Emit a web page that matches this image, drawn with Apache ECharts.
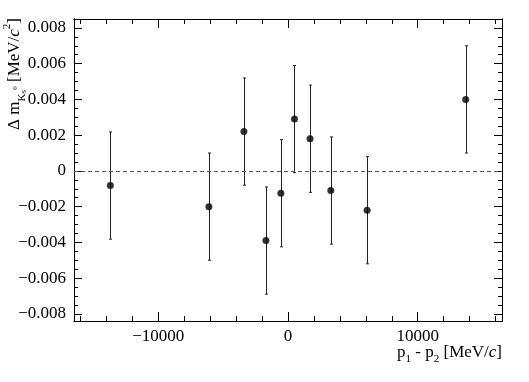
<!DOCTYPE html>
<html>
<head>
<meta charset="utf-8">
<script src="https://cdn.jsdelivr.net/npm/echarts@6/dist/echarts.min.js"></script>
<style>html,body{margin:0;padding:0;background:#fff}#c{width:529px;height:382px}</style>
</head>
<body>
<div id="c"></div>
<script>
// ---- data ----
const xVals = [-13700, -6100, -3400, -1700, -550, 500, 1700, 3300, 6100, 13700];
const yVals = [-0.00082, -0.0020, 0.0022, -0.0039, -0.00125, 0.0029, 0.0018, -0.0011, -0.0022, 0.0040];
const yErr  = [0.0030, 0.0030, 0.0030, 0.0030, 0.0030, 0.0030, 0.0030, 0.0030, 0.0030, 0.0030];
const xMajorTicks = [-10000, 0, 10000];
const xMinorTicks = [-16000,-14000,-12000,-10000,-8000,-6000,-4000,-2000,0,2000,4000,6000,8000,10000,12000,14000,16000];
const yMajorTicks = [-0.008, -0.006, -0.004, -0.002, 0, 0.002, 0.004, 0.006, 0.008];
const yMinorTicks = [];
for (let i = -16; i <= 16; i++) yMinorTicks.push(i * 0.0005);

const X_MIN = -16500, X_MAX = 16500, Y_MIN = -0.0084, Y_MAX = 0.0085;
const FONT = 'Liberation Serif';

const fmtX = v => (v < 0 ? '\u2212' : '') + Math.abs(v);
const fmtY = v => Math.abs(v) < 1e-12 ? '0' : (v < 0 ? '\u2212' : '') + Math.abs(v).toFixed(3);

function xAx(pos, ticks, len, labels) {
  return {
    type: 'value', position: pos, min: X_MIN, max: X_MAX,
    axisLine: { show: true, onZero: false, lineStyle: { color: '#000', width: 1 } },
    axisTick: { show: true, inside: true, length: len, customValues: ticks, lineStyle: { color: '#000', width: 1 } },
    axisLabel: labels ? { show: true, customValues: ticks, formatter: fmtX, fontFamily: FONT, fontSize: 17, color: '#000', margin: 7 } : { show: false },
    splitLine: { show: false }
  };
}
function yAx(pos, ticks, len, labels) {
  return {
    type: 'value', position: pos, min: Y_MIN, max: Y_MAX,
    axisLine: { show: true, onZero: false, lineStyle: { color: '#000', width: 1 } },
    axisTick: { show: true, inside: true, length: len, customValues: ticks, lineStyle: { color: '#000', width: 1 } },
    axisLabel: labels ? { show: true, customValues: ticks, formatter: fmtY, fontFamily: FONT, fontSize: 17, color: '#000', margin: 8 } : { show: false },
    splitLine: { show: false }
  };
}

const chart = echarts.init(document.getElementById('c'), null, { renderer: 'canvas' });
const pts = xVals.map((x, i) => [x, yVals[i], yErr[i]]);

chart.setOption({
  animation: false,
  backgroundColor: '#fff',
  grid: { left: 74, right: 27, top: 19, bottom: 61, containLabel: false },
  xAxis: [
    xAx('bottom', xMajorTicks, 9, true),
    xAx('bottom', xMinorTicks, 5, false),
    xAx('top', xMajorTicks, 9, false),
    xAx('top', xMinorTicks, 5, false)
  ],
  yAxis: [
    yAx('left', yMajorTicks, 8, true),
    yAx('left', yMinorTicks, 4, false),
    yAx('right', yMajorTicks, 8, false),
    yAx('right', yMinorTicks, 4, false)
  ],
  series: [
    {
      type: 'custom', xAxisIndex: 0, yAxisIndex: 0, data: pts, z: 3,
      renderItem: function (params, api) {
        const x = api.value(0), y = api.value(1), e = api.value(2);
        const top = api.coord([x, y + e]);
        const bot = api.coord([x, y - e]);
        const st = { stroke: '#222', lineWidth: 1 };
        const cx = Math.round(top[0]) + 0.5;
        return {
          type: 'group',
          children: [
            { type: 'line', shape: { x1: cx, y1: top[1], x2: cx, y2: bot[1] }, style: st },
            { type: 'line', shape: { x1: cx - 1.5, y1: top[1], x2: cx + 1.5, y2: top[1] }, style: st },
            { type: 'line', shape: { x1: cx - 1.5, y1: bot[1], x2: cx + 1.5, y2: bot[1] }, style: st }
          ]
        };
      }
    },
    {
      type: 'scatter', xAxisIndex: 0, yAxisIndex: 0, z: 4,
      data: pts.map(p => [p[0], p[1]]),
      symbol: 'circle', symbolSize: 7,
      itemStyle: { color: '#000' },
      markLine: {
        silent: true, symbol: 'none', animation: false,
        label: { show: false },
        lineStyle: { color: '#555', type: [4, 3], width: 1 },
        data: [{ yAxis: 0 }]
      }
    }
  ],
  graphic: [
    {
      type: 'text', x: 15, y: 18, rotation: Math.PI / 2,
      style: {
        text: '{a|\u0394 m}{sub|K}{ss|S}{sp|0}{a| [MeV/}{i|c}{sp2|2}{a|]}',
        align: 'right', verticalAlign: 'middle',
        fill: '#000', fontFamily: FONT, fontSize: 17,
        rich: {
          a: { fontFamily: FONT, fontSize: 17, lineHeight: 26, verticalAlign: 'middle' },
          i: { fontFamily: FONT, fontSize: 17, fontStyle: 'italic', lineHeight: 26, verticalAlign: 'middle' },
          sub: { fontFamily: FONT, fontSize: 11, lineHeight: 14, verticalAlign: 'bottom' },
          ss: { fontFamily: FONT, fontSize: 7, lineHeight: 9, verticalAlign: 'bottom' },
          sp: { fontFamily: FONT, fontSize: 7, lineHeight: 9, verticalAlign: 'middle' },
          sp2: { fontFamily: FONT, fontSize: 11, lineHeight: 16, verticalAlign: 'top' }
        }
      }
    },
    {
      type: 'text', x: 502, y: 353,
      style: {
        text: '{a|p}{sub|1}{a| - p}{sub|2}{a| [MeV/}{i|c}{a|]}',
        align: 'right', verticalAlign: 'middle',
        fill: '#000', fontFamily: FONT, fontSize: 17,
        rich: {
          a: { fontFamily: FONT, fontSize: 17, lineHeight: 24, verticalAlign: 'middle' },
          i: { fontFamily: FONT, fontSize: 17, fontStyle: 'italic', lineHeight: 24, verticalAlign: 'middle' },
          sub: { fontFamily: FONT, fontSize: 11, lineHeight: 12, verticalAlign: 'bottom' }
        }
      }
    }
  ]
});
</script>
</body>
</html>
